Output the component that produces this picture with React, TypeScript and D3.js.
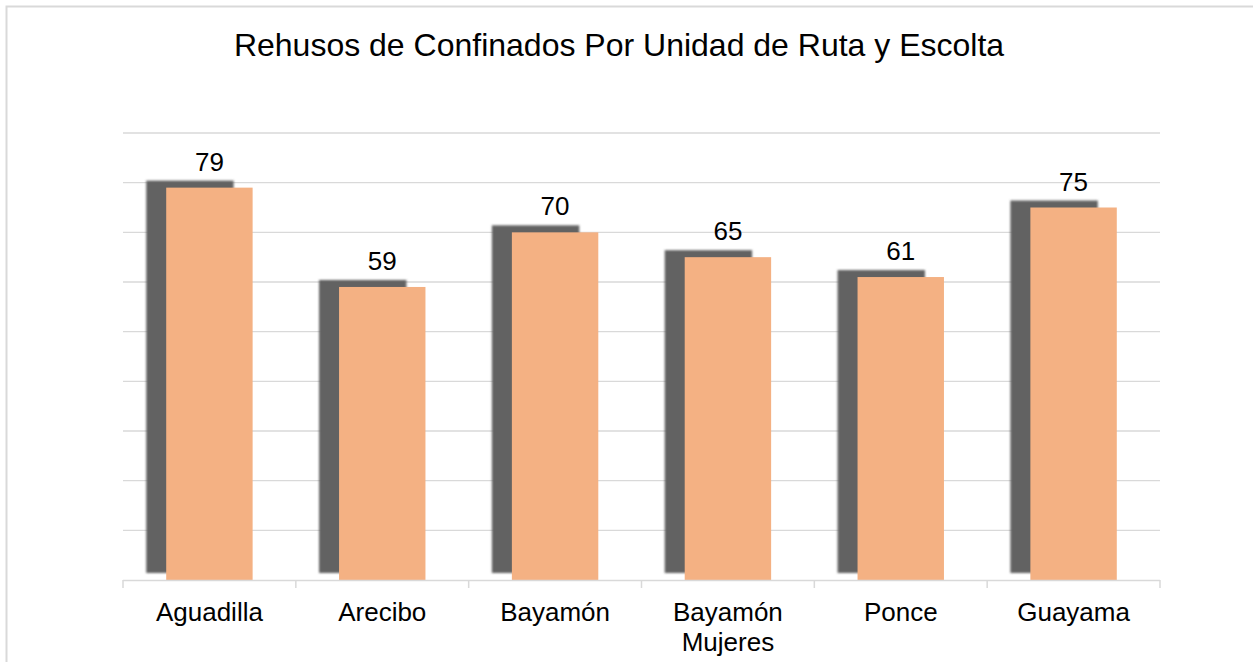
import { useMemo } from "react";
import * as d3 from "d3";

// Datos del gráfico
const UNIDADES = ["Aguadilla", "Arecibo", "Bayamón", "Bayamón\nMujeres", "Ponce", "Guayama"];
const REHUSOS = [79, 59, 70, 65, 61, 75];
const TICKS_Y = [10, 20, 30, 40, 50, 60, 70, 80, 90];

const TITULO = "Rehusos de Confinados Por Unidad de Ruta y Escolta";

const WIDTH = 1253;
const HEIGHT = 662;
const margin = { top: 133, right: 93, bottom: 82, left: 123 };

const COLOR_BARRA = "#F4B183";
const COLOR_SOMBRA = "#626262";
const COLOR_GRID = "#d9d9d9";
const FUENTE = "'Liberation Sans', Arial, sans-serif";

const App = () => {
  const innerW = WIDTH - margin.left - margin.right;
  const innerH = HEIGHT - margin.top - margin.bottom;

  const xScale = useMemo(
    () => d3.scaleBand<string>().domain(UNIDADES).range([0, innerW]).paddingInner(0.5).paddingOuter(0.25),
    [innerW]
  );
  const yScale = useMemo(() => d3.scaleLinear().domain([0, 90]).range([innerH, 0]), [innerH]);

  const step = xScale.step();
  const bordes = d3.range(UNIDADES.length + 1).map((i) => i * step);

  return (
    <svg
      width={WIDTH}
      height={HEIGHT}
      style={{ position: "absolute", left: 0, top: 0, background: "#fff" }}
      fontFamily={FUENTE}
    >
      <defs>
        <filter id="sombra" x="-20%" y="-5%" width="140%" height="110%">
          <feGaussianBlur stdDeviation="1.3" />
        </filter>
      </defs>

      {/* Borde del área del gráfico */}
      <rect x={6.5} y={6.5} width={1260} height={700} fill="none" stroke={COLOR_GRID} strokeWidth={2} />

      <text x={619} y={56} textAnchor="middle" fontSize={32} fill="#000">
        {TITULO}
      </text>

      <g transform={`translate(${margin.left},${margin.top})`}>
        {/* Grid horizontal */}
        {TICKS_Y.map((t) => (
          <line key={t} x1={0} x2={innerW} y1={yScale(t)} y2={yScale(t)} stroke={COLOR_GRID} strokeWidth={1.3} />
        ))}

        {/* Sombras */}
        {REHUSOS.map((v, i) => (
          <rect
            key={`s-${i}`}
            x={(xScale(UNIDADES[i]) ?? 0) - 20}
            y={yScale(v) - 7}
            width={xScale.bandwidth() + 1}
            height={innerH - yScale(v)}
            fill={COLOR_SOMBRA}
            filter="url(#sombra)"
          />
        ))}

        {/* Barras */}
        {REHUSOS.map((v, i) => (
          <rect
            key={`b-${i}`}
            x={xScale(UNIDADES[i]) ?? 0}
            y={yScale(v)}
            width={xScale.bandwidth()}
            height={innerH - yScale(v)}
            fill={COLOR_BARRA}
          />
        ))}

        {/* Etiquetas de valores */}
        {REHUSOS.map((v, i) => (
          <text
            key={`v-${i}`}
            x={(xScale(UNIDADES[i]) ?? 0) + xScale.bandwidth() / 2}
            y={yScale(v) - 17}
            textAnchor="middle"
            fontSize={26}
            fill="#000"
          >
            {v}
          </text>
        ))}

        {/* Eje X */}
        <line x1={0} x2={innerW} y1={innerH + 0.5} y2={innerH + 0.5} stroke={COLOR_GRID} strokeWidth={1.5} />
        {bordes.map((b, i) => (
          <line key={`t-${i}`} x1={b} x2={b} y1={innerH} y2={innerH + 8} stroke={COLOR_GRID} strokeWidth={1.5} />
        ))}

        {UNIDADES.map((u) => (
          <text
            key={u}
            x={(xScale(u) ?? 0) + xScale.bandwidth() / 2}
            y={innerH + 41}
            textAnchor="middle"
            fontSize={26}
            fill="#000"
          >
            {u.split("\n").map((linea, j) => (
              <tspan key={j} x={(xScale(u) ?? 0) + xScale.bandwidth() / 2} dy={j === 0 ? 0 : 30}>
                {linea}
              </tspan>
            ))}
          </text>
        ))}
      </g>
    </svg>
  );
};

export default App;
